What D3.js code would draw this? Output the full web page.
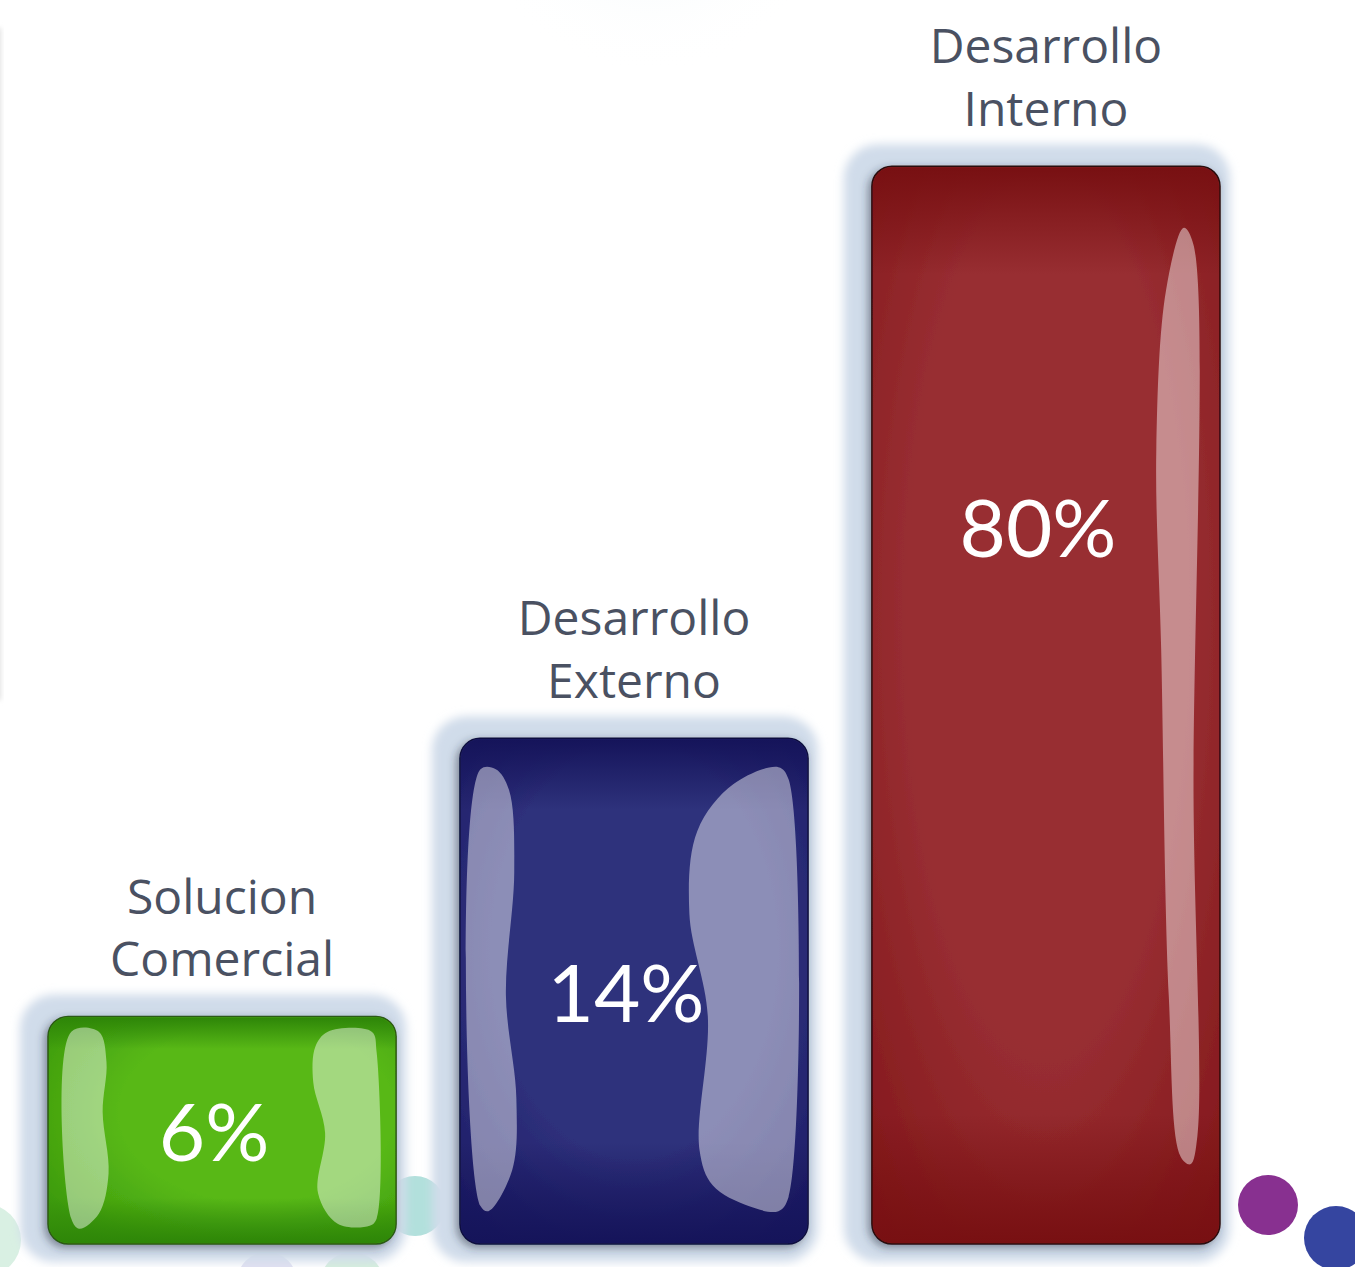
<!DOCTYPE html>
<html>
<head>
<meta charset="utf-8">
<script src="https://cdn.jsdelivr.net/npm/d3@7/dist/d3.min.js"></script>
<style>
  html, body { margin: 0; padding: 0; background: #ffffff; }
  svg { display: block; }
  .cat-label { font-family: "Open Sans", "Noto Sans", sans-serif; font-size: 48px; fill: #4a5162; text-anchor: middle; }
  .val-label { font-family: "Lato", "Open Sans", sans-serif; font-size: 80px; fill: #ffffff; text-anchor: middle; }
</style>
</head>
<body>
<div id="chart"></div>
<script>
// Chart data
const categories = ["Solucion Comercial", "Desarrollo Externo", "Desarrollo Interno"];
const values = [6, 14, 80];
const valueLabels = ["6%", "14%", "80%"];

const width = 1355, height = 1267;

// colour sets per bar: [centre, edge, top/bottom band, border]
const palette = [
    ["#58b816", "#3c9a0c", "#2e8608", "#2c5a12"],
    ["#2f317c", "#1d1c66", "#15145a", "#10103f"],
    ["#982e32", "#84191c", "#781012", "#2c0a0b"]
];

// glossy highlight outlines, as fractions of each bar's box (decoration only)
const gloss = [
    [
        [[0.067,0.067],[0.146,0.067],[0.168,0.2],[0.157,0.42],[0.174,0.69],[0.146,0.867],[0.09,0.933],[0.067,0.889]],
        [[0.804,0.067],[0.930,0.067],[0.944,0.156],[0.944,0.889],[0.924,0.92],[0.832,0.911],[0.776,0.778],[0.796,0.511],[0.762,0.289],[0.768,0.133]]
    ],
    [
        [[0.059,0.061],[0.103,0.061],[0.141,0.102],[0.156,0.264],[0.132,0.508],[0.162,0.711],[0.150,0.854],[0.082,0.935],[0.059,0.925]],
        [[0.915,0.057],[0.944,0.081],[0.944,0.907],[0.915,0.935],[0.829,0.925],[0.726,0.884],[0.688,0.813],[0.712,0.549],[0.659,0.346],[0.682,0.183],[0.785,0.091]]
    ],
    [
        [[0.896,0.057],[0.924,0.073],[0.924,0.586],[0.935,0.9],[0.915,0.926],[0.887,0.919],[0.853,0.771],[0.831,0.448],[0.817,0.263],[0.845,0.115]]
    ]
];

const svg = d3.select("#chart").append("svg").attr("width", width).attr("height", height);
const defs = svg.append("defs");

// Filters
defs.append("filter").attr("id", "haloBlur").attr("x", "-20%").attr("y", "-20%").attr("width", "140%").attr("height", "140%")
    .append("feGaussianBlur").attr("stdDeviation", 5);
defs.append("filter").attr("id", "softBlur").attr("x", "-50%").attr("y", "-50%").attr("width", "200%").attr("height", "200%")
    .append("feGaussianBlur").attr("stdDeviation", 2.5);
defs.append("filter").attr("id", "barShadow").attr("x", "-10%").attr("y", "-10%").attr("width", "120%").attr("height", "120%")
    .append("feDropShadow").attr("dx", -3).attr("dy", 3).attr("stdDeviation", 4)
    .attr("flood-color", "#2a3140").attr("flood-opacity", 0.5);

// Gradients for each bar
palette.forEach((p, i) => {
    let rg = defs.append("radialGradient").attr("id", `fill${i}`)
        .attr("cx", i === 0 ? "60%" : "50%").attr("cy", "42%").attr("r", "72%");
    rg.append("stop").attr("offset", "0%").attr("stop-color", p[0]);
    rg.append("stop").attr("offset", "55%").attr("stop-color", p[0]);
    rg.append("stop").attr("offset", "100%").attr("stop-color", p[1]);

    let lg = defs.append("linearGradient").attr("id", `band${i}`)
        .attr("x1", 0).attr("y1", 0).attr("x2", 0).attr("y2", 1);
    lg.append("stop").attr("offset", "0%").attr("stop-color", p[2]).attr("stop-opacity", 1);
    lg.append("stop").attr("offset", i === 2 ? "10%" : "14%").attr("stop-color", p[2]).attr("stop-opacity", 0);
    lg.append("stop").attr("offset", i === 2 ? "88%" : "80%").attr("stop-color", p[2]).attr("stop-opacity", 0);
    lg.append("stop").attr("offset", "100%").attr("stop-color", p[2]).attr("stop-opacity", 1);
});

let topGlow = defs.append("radialGradient").attr("id", "topGlow");
topGlow.append("stop").attr("offset", "0%").attr("stop-color", "#edf5f8");
topGlow.append("stop").attr("offset", "100%").attr("stop-color", "#ffffff").attr("stop-opacity", 0);

// Background decoration
svg.append("circle").attr("cx", 650).attr("cy", -110).attr("r", 185).attr("fill", "url(#topGlow)");
svg.append("rect").attr("x", -5).attr("y", 28).attr("width", 6).attr("height", 672)
    .attr("fill", "#e2e2e2").attr("filter", "url(#softBlur)");

const dots = svg.append("g");
[[-15, 1240, 36, "#d9f0e3"], [415, 1206, 30, "#b2e0dc"], [267, 1282, 30, "#e1e0f1"],
 [352, 1284, 32, "#d5efdc"], [1268, 1205, 30, "#883090"], [1336, 1238, 32, "#3545a0"]]
    .forEach(c => dots.append("circle").attr("cx", c[0]).attr("cy", c[1]).attr("r", c[2]).attr("fill", c[3]));

// Scales
const baseline = 1244;
const x = d3.scaleBand().domain(categories).range([48, 1220]).paddingInner(0.155).paddingOuter(0);
const y = d3.scaleLog().domain([3, 100]).range([baseline, 93]);

const line = d3.line().curve(d3.curveCatmullRomClosed.alpha(0.5));

const bars = svg.append("g").selectAll("g.bar")
    .data(categories.map((c, i) => ({ cat: c, value: values[i], label: valueLabels[i], i: i })))
    .join("g").attr("class", "bar");

// halo behind each bar
bars.append("rect")
    .attr("x", d => x(d.cat) - 28).attr("y", d => y(d.value) - 22)
    .attr("width", x.bandwidth() + 38).attr("height", d => baseline - y(d.value) + 40)
    .attr("rx", 34).attr("fill", "#d0dcea").attr("filter", "url(#haloBlur)");

// bar body
bars.append("rect")
    .attr("x", d => x(d.cat)).attr("y", d => y(d.value))
    .attr("width", x.bandwidth()).attr("height", d => baseline - y(d.value))
    .attr("rx", 20).attr("fill", d => `url(#fill${d.i})`)
    .attr("stroke", d => palette[d.i][3]).attr("stroke-width", 1.5)
    .attr("filter", "url(#barShadow)");
bars.append("rect")
    .attr("x", d => x(d.cat) + 1).attr("y", d => y(d.value) + 1)
    .attr("width", x.bandwidth() - 2).attr("height", d => baseline - y(d.value) - 2)
    .attr("rx", 19).attr("fill", d => `url(#band${d.i})`);

// gloss highlights
bars.each(function(d) {
    let bx = x(d.cat), by = y(d.value), bw = x.bandwidth(), bh = baseline - by;
    gloss[d.i].forEach(shape => {
        d3.select(this).append("path")
            .attr("d", line(shape.map(p => [bx + p[0] * bw, by + p[1] * bh])))
            .attr("fill", "#ffffff").attr("fill-opacity", 0.45);
    });
});

// category labels (two lines)
bars.append("text").attr("class", "cat-label")
    .attr("x", d => x(d.cat) + x.bandwidth() / 2)
    .attr("y", d => y(d.value) - 40)
    .selectAll("tspan").data(d => d.cat.split(" ").map((w, k, a) => ({ w: w, dy: k - (a.length - 1) })))
    .join("tspan")
    .attr("x", function() { return this.parentNode.getAttribute("x"); })
    .attr("dy", (t, k) => k === 0 ? `${t.dy * 1.31}em` : "1.31em")
    .text(t => t.w);

// value labels
bars.append("text").attr("class", "val-label")
    .attr("x", d => x(d.cat) + x.bandwidth() / 2 - 8)
    .attr("y", d => y(d.value) + Math.min((baseline - y(d.value)) / 2, 360))
    .attr("dominant-baseline", "central")
    .text(d => d.label);
</script>
</body>
</html>
